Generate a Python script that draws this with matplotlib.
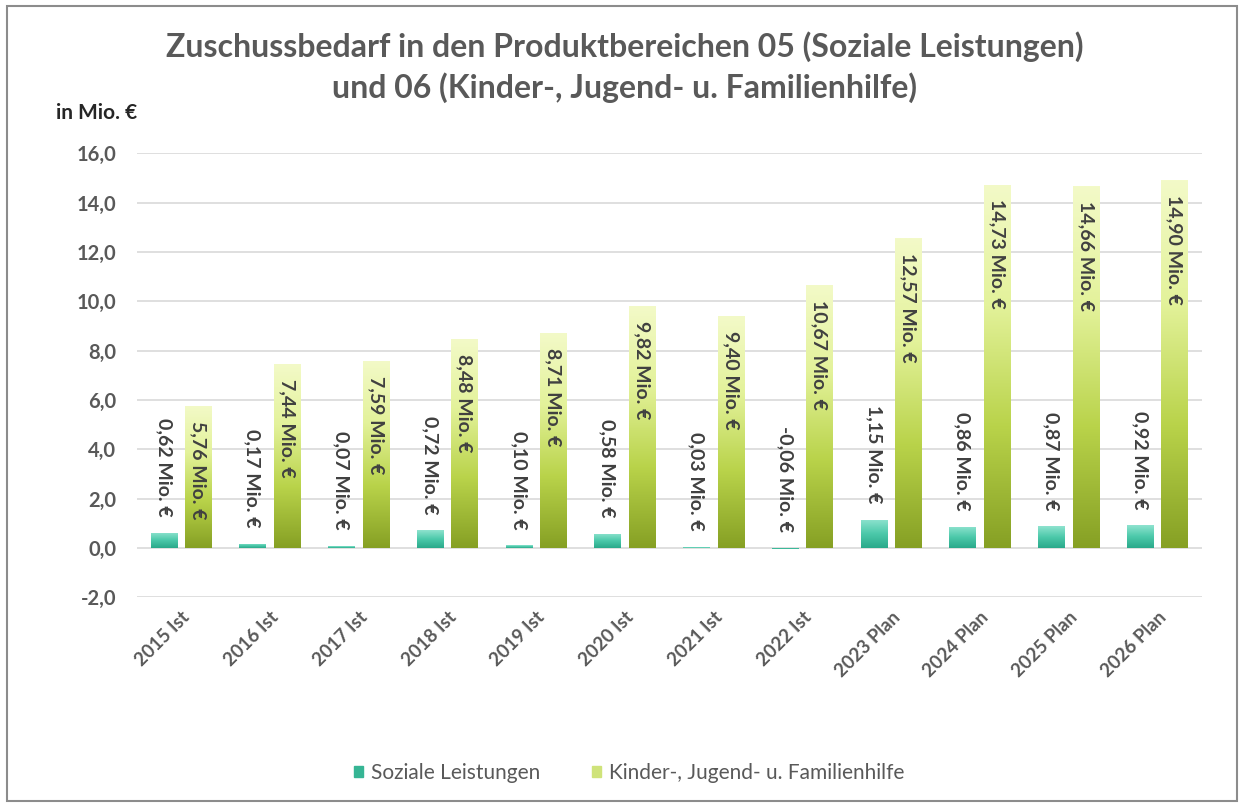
import numpy as np
import matplotlib
matplotlib.use("Agg")
import matplotlib.pyplot as plt
from matplotlib.colors import LinearSegmentedColormap
from matplotlib.patches import Rectangle, Patch

# ── Daten ────────────────────────────────────────────────────────────────────
jahre = ["2015 Ist", "2016 Ist", "2017 Ist", "2018 Ist", "2019 Ist", "2020 Ist",
         "2021 Ist", "2022 Ist", "2023 Plan", "2024 Plan", "2025 Plan", "2026 Plan"]
soziale = [0.62, 0.17, 0.07, 0.72, 0.10, 0.58, 0.03, -0.06, 1.15, 0.86, 0.87, 0.92]
kinder = [5.76, 7.44, 7.59, 8.48, 8.71, 9.82, 9.40, 10.67, 12.57, 14.73, 14.66, 14.90]
y_ticks = [-2, 0, 2, 4, 6, 8, 10, 12, 14, 16]

FONT = ["Lato", "DejaVu Sans"]
plt.rcParams["font.family"] = FONT
GRAU = "#595959"

cmap_gruen = LinearSegmentedColormap.from_list("g", ["#86a024", "#b9d34a", "#e3f29a", "#f3fac8"])
cmap_teal = LinearSegmentedColormap.from_list("t", ["#2aa98a", "#4cc9aa", "#8fe3cf"])

fig = plt.figure(figsize=(12.44, 8.07), dpi=100)
ax = fig.add_axes([0.110, 0.260, 0.856, 0.550])

x = np.arange(len(jahre))
w = 0.30
off = 0.195


def gradient_bars(xs, vals, cmap):
    bars = ax.bar(xs, vals, width=w, color="none", edgecolor="none", zorder=3)
    grad = np.linspace(0, 1, 256).reshape(-1, 1)
    for b in bars:
        x0 = b.get_x()
        h = b.get_height()
        if h == 0:
            continue
        y0, y1 = (0, h) if h > 0 else (h, 0)
        im = ax.imshow(grad, extent=[x0, x0 + w, y0, y1], origin="lower",
                       aspect="auto", cmap=cmap, zorder=3)
        im.set_clip_path(b)
    return bars


gradient_bars(x - off, soziale, cmap_teal)
gradient_bars(x + off, kinder, cmap_gruen)

# Datenbeschriftungen
for xi, v in zip(x, soziale):
    ax.text(xi - off, max(v, 0) + 0.65, f"{v:.2f} Mio. €".replace(".", ",", 1),
            rotation=-90, ha="center", va="bottom", fontsize=14, fontweight="bold",
            color="#404040", zorder=4)
for xi, v in zip(x, kinder):
    ax.text(xi + off, v - 0.6, f"{v:.2f} Mio. €".replace(".", ",", 1),
            rotation=-90, ha="center", va="top", fontsize=14, fontweight="bold",
            color="#404040", zorder=4)

ax.set_xlim(-0.5, len(jahre) - 0.5)
ax.set_ylim(-2, 16)
ax.set_yticks(y_ticks)
ax.set_yticklabels([f"{t:.1f}".replace(".", ",") for t in y_ticks],
                   fontsize=14.5, fontweight="bold", color=GRAU)
ax.set_xticks(x)
ax.set_xticklabels(jahre, rotation=45, ha="right", rotation_mode="anchor",
                   fontsize=13.5, fontweight="bold", color=GRAU)
ax.tick_params(axis="y", length=0, pad=15)
ax.tick_params(axis="x", length=0, pad=8)
ax.grid(axis="y", color="#d9d9d9", linewidth=1.2, zorder=0)
ax.set_axisbelow(True)
for s in ax.spines.values():
    s.set_visible(False)

fig.text(0.502, 0.942, "Zuschussbedarf in den Produktbereichen 05 (Soziale Leistungen)",
         ha="center", va="center", fontsize=23, fontweight="bold", color=GRAU)
fig.text(0.502, 0.891, "und 06 (Kinder-, Jugend- u. Familienhilfe)",
         ha="center", va="center", fontsize=23, fontweight="bold", color=GRAU)
fig.text(0.045, 0.860, "in Mio. €", ha="left", va="center", fontsize=15,
         fontweight="bold", color="#262626")

handles = [Patch(color="#36b594", label="Soziale Leistungen"),
           Patch(color="#cfe37a", label="Kinder-, Jugend- u. Familienhilfe")]
fig.legend(handles=handles, loc="center", bbox_to_anchor=(0.506, 0.042), ncol=2,
           frameon=False, fontsize=15, handlelength=0.4, handleheight=0.4,
           columnspacing=2.5, handletextpad=0.4, labelcolor=GRAU)

fig.patches.append(Rectangle((0.006, 0.008), 0.988, 0.984, transform=fig.transFigure,
                             fill=False, edgecolor="#8c8c8c", linewidth=1.5))

plt.savefig("out.png", dpi=100)
